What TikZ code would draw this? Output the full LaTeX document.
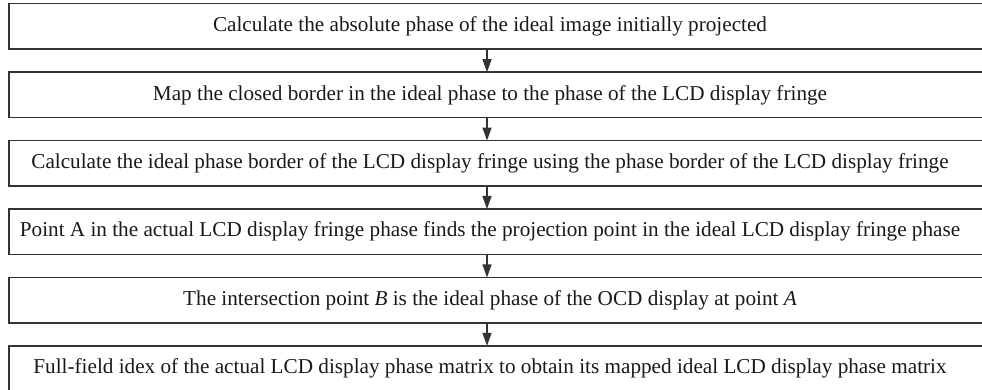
\documentclass[tikz,border=0pt]{standalone}
\usepackage{fontspec}
\setmainfont{Liberation Serif}
\usetikzlibrary{arrows.meta,positioning}
\definecolor{boxline}{HTML}{333333}
\tikzset{
  stepbox/.style={minimum width=962pt,minimum height=45pt,inner sep=0pt,
    font=\fontsize{21.2}{24}\selectfont,text=black!90},
  frame/.style={draw=boxline,line width=1.4pt},
  arrow/.style={-{Triangle[length=13pt,width=9pt]},line width=1.4pt,draw=boxline}
}
\begin{document}
\begin{tikzpicture}[node distance=23pt]
\useasboundingbox (0,0) rectangle (982pt,-390pt);
\clip (0,0) rectangle (982pt,-390pt);
\node[stepbox] (calc) at (490pt,-26.5pt) {Calculate the absolute phase of the ideal image initially projected};
\node[stepbox,below=of calc] (map) {Map the closed border in the ideal phase to the phase of the LCD display fringe};
\node[stepbox,below=of map] (border) {Calculate the ideal phase border of the LCD display fringe using the phase border of the LCD display fringe};
\node[stepbox,below=of border] (pointa) {Point A in the actual LCD display fringe phase finds the projection point in the ideal LCD display fringe phase};
\node[stepbox,below=of pointa] (pointb) {The intersection point \textit{B} is the ideal phase of the OCD display at point \textit{A}};
\node[stepbox,below=of pointb] (index) {Full-field idex of the actual LCD display phase matrix to obtain its mapped ideal LCD display phase matrix};
% boxes run out past the right edge
\foreach \n in {calc,map,border,pointa,pointb,index}
  \draw[frame] (\n.north west) rectangle ([xshift=30pt]\n.south east);
\foreach \a/\b in {calc/map,map/border,border/pointa,pointa/pointb,pointb/index}
  \draw[arrow] ([xshift=-3pt]\a.south) -- ([xshift=-3pt]\b.north);
\end{tikzpicture}
\end{document}
